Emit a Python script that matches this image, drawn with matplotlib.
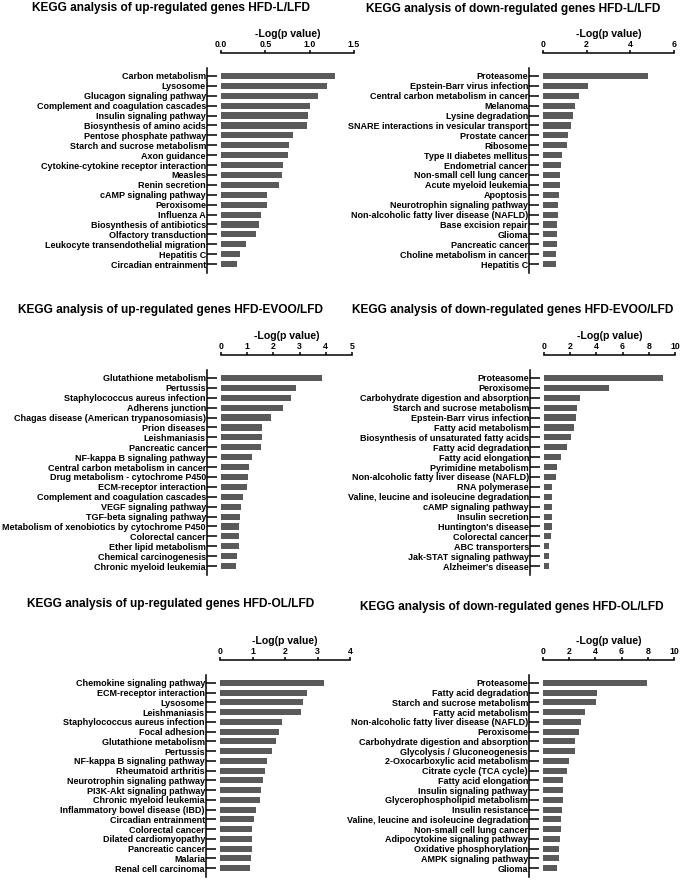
import matplotlib
matplotlib.use('Agg')
import matplotlib.pyplot as plt

plt.rcParams['font.family'] = ['Liberation Sans', 'DejaVu Sans']

W, H = 685, 884
BAR_COLOR = '#5a5a5a'

# ---- HFD-L/LFD ----
l_up_terms = ['Carbon metabolism', 'Lysosome', 'Glucagon signaling pathway',
              'Complement and coagulation cascades', 'Insulin signaling pathway',
              'Biosynthesis of amino acids', 'Pentose phosphate pathway',
              'Starch and sucrose metabolism', 'Axon guidance',
              'Cytokine-cytokine receptor interaction', 'Measles', 'Renin secretion',
              'cAMP signaling pathway', 'Peroxisome', 'Influenza A',
              'Biosynthesis of antibiotics', 'Olfactory transduction',
              'Leukocyte transendothelial migration', 'Hepatitis C',
              'Circadian entrainment']
l_up_vals = [1.29, 1.20, 1.09, 1.00, 0.98, 0.97, 0.81, 0.77, 0.76, 0.70,
             0.69, 0.65, 0.52, 0.52, 0.45, 0.43, 0.39, 0.28, 0.21, 0.18]

l_down_terms = ['Proteasome', 'Epstein-Barr virus infection',
                'Central carbon metabolism in cancer', 'Melanoma', 'Lysine degradation',
                'SNARE interactions in vesicular transport', 'Prostate cancer', 'Ribosome',
                'Type II diabetes mellitus', 'Endometrial cancer',
                'Non-small cell lung cancer', 'Acute myeloid leukemia', 'Apoptosis',
                'Neurotrophin signaling pathway',
                'Non-alcoholic fatty liver disease (NAFLD)', 'Base excision repair',
                'Glioma', 'Pancreatic cancer', 'Choline metabolism in cancer',
                'Hepatitis C']
l_down_vals = [4.79, 2.05, 1.63, 1.47, 1.36, 1.28, 1.13, 1.11, 0.87, 0.84,
               0.76, 0.76, 0.72, 0.70, 0.69, 0.66, 0.66, 0.64, 0.61, 0.58]

# ---- HFD-EVOO/LFD ----
evoo_up_terms = ['Glutathione metabolism', 'Pertussis',
                 'Staphylococcus aureus infection', 'Adherens junction',
                 'Chagas disease (American trypanosomiasis)', 'Prion diseases',
                 'Leishmaniasis', 'Pancreatic cancer', 'NF-kappa B signaling pathway',
                 'Central carbon metabolism in cancer',
                 'Drug metabolism - cytochrome P450', 'ECM-receptor interaction',
                 'Complement and coagulation cascades', 'VEGF signaling pathway',
                 'TGF-beta signaling pathway',
                 'Metabolism of xenobiotics by cytochrome P450', 'Colorectal cancer',
                 'Ether lipid metabolism', 'Chemical carcinogenesis',
                 'Chronic myeloid leukemia']
evoo_up_vals = [3.85, 2.87, 2.69, 2.36, 1.90, 1.55, 1.55, 1.52, 1.20, 1.08,
                1.04, 1.01, 0.85, 0.75, 0.71, 0.70, 0.70, 0.68, 0.62, 0.59]

evoo_down_terms = ['Proteasome', 'Peroxisome', 'Carbohydrate digestion and absorption',
                   'Starch and sucrose metabolism', 'Epstein-Barr virus infection',
                   'Fatty acid metabolism', 'Biosynthesis of unsaturated fatty acids',
                   'Fatty acid degradation', 'Fatty acid elongation',
                   'Pyrimidine metabolism', 'Non-alcoholic fatty liver disease (NAFLD)',
                   'RNA polymerase', 'Valine, leucine and isoleucine degradation',
                   'cAMP signaling pathway', 'Insulin secretion', "Huntington's disease",
                   'Colorectal cancer', 'ABC transporters', 'Jak-STAT signaling pathway',
                   "Alzheimer's disease"]
evoo_down_vals = [9.11, 4.96, 2.72, 2.52, 2.47, 2.29, 2.04, 1.76, 1.32, 0.99,
                  0.94, 0.64, 0.64, 0.59, 0.59, 0.59, 0.51, 0.38, 0.36, 0.36]

# ---- HFD-OL/LFD ----
ol_up_terms = ['Chemokine signaling pathway', 'ECM-receptor interaction', 'Lysosome',
               'Leishmaniasis', 'Staphylococcus aureus infection', 'Focal adhesion',
               'Glutathione metabolism', 'Pertussis', 'NF-kappa B signaling pathway',
               'Rheumatoid arthritis', 'Neurotrophin signaling pathway',
               'PI3K-Akt signaling pathway', 'Chronic myeloid leukemia',
               'Inflammatory bowel disease (IBD)', 'Circadian entrainment',
               'Colorectal cancer', 'Dilated cardiomyopathy', 'Pancreatic cancer',
               'Malaria', 'Renal cell carcinoma']
ol_up_vals = [3.21, 2.67, 2.56, 2.49, 1.90, 1.82, 1.71, 1.61, 1.45, 1.39,
              1.32, 1.26, 1.22, 1.11, 1.06, 0.99, 0.99, 0.97, 0.94, 0.92]

ol_down_terms = ['Proteasome', 'Fatty acid degradation', 'Starch and sucrose metabolism',
                 'Fatty acid metabolism', 'Non-alcoholic fatty liver disease (NAFLD)',
                 'Peroxisome', 'Carbohydrate digestion and absorption',
                 'Glycolysis / Gluconeogenesis', '2-Oxocarboxylic acid metabolism',
                 'Citrate cycle (TCA cycle)', 'Fatty acid elongation',
                 'Insulin signaling pathway', 'Glycerophospholipid metabolism',
                 'Insulin resistance', 'Valine, leucine and isoleucine degradation',
                 'Non-small cell lung cancer', 'Adipocytokine signaling pathway',
                 'Oxidative phosphorylation', 'AMPK signaling pathway', 'Glioma']
ol_down_vals = [7.96, 4.10, 4.02, 3.23, 2.90, 2.75, 2.47, 2.42, 1.96, 1.81,
                1.50, 1.50, 1.50, 1.48, 1.37, 1.35, 1.32, 1.25, 1.20, 1.09]

titles = ['KEGG analysis of up-regulated genes HFD-L/LFD',
          'KEGG analysis of down-regulated genes HFD-L/LFD',
          'KEGG analysis of up-regulated genes HFD-EVOO/LFD',
          'KEGG analysis of down-regulated genes HFD-EVOO/LFD',
          'KEGG analysis of up-regulated genes HFD-OL/LFD',
          'KEGG analysis of down-regulated genes HFD-OL/LFD']
x_ticks = [[0, 0.5, 1.0, 1.5], [0, 2, 4, 6], [0, 1, 2, 3, 4, 5],
           [0, 2, 4, 6, 8, 10], [0, 1, 2, 3, 4], [0, 2, 4, 6, 8, 10]]
x_ticklabels = [['0.0', '0.5', '1.0', '1.5'], ['0', '2', '4', '6'],
                ['0', '1', '2', '3', '4', '5'], ['0', '2', '4', '6', '8', '10'],
                ['0', '1', '2', '3', '4'], ['0', '2', '4', '6', '8', '10']]

panel_data = [(l_up_terms, l_up_vals), (l_down_terms, l_down_vals),
              (evoo_up_terms, evoo_up_vals), (evoo_down_terms, evoo_down_vals),
              (ol_up_terms, ol_up_vals), (ol_down_terms, ol_down_vals)]

# axes boxes in pixels: left, top, right, bottom
boxes = [(221, 68, 354, 273), (543, 68, 674, 273),
         (221, 370, 352, 575), (544, 370, 675, 575),
         (220, 675, 350, 877), (543, 675, 674, 877)]
title_pos = [(171, 8), (513, 9), (170, 310), (513, 310), (171, 604), (512, 607)]


def px2pt(p):
    return p * 72.0 / 100.0


fig = plt.figure(figsize=(W / 100, H / 100), dpi=100)

for i, (terms, vals) in enumerate(panel_data):
    l, t, r, b = boxes[i]
    ax = fig.add_axes([l / W, 1 - b / H, (r - l) / W, (b - t) / H])
    ypos = list(range(len(terms)))
    ax.barh(ypos, vals, height=0.62, color=BAR_COLOR)
    ax.set_ylim(len(terms) - 0.1, -0.8)
    ax.set_xlim(x_ticks[i][0], x_ticks[i][-1])

    ax.spines['right'].set_visible(False)
    ax.spines['bottom'].set_visible(False)
    ax.spines['top'].set_position(('outward', px2pt(15)))
    ax.spines['left'].set_position(('outward', px2pt(14)))
    for s in ('top', 'left'):
        ax.spines[s].set_linewidth(1.1)

    ax.xaxis.tick_top()
    ax.set_xticks(x_ticks[i])
    ax.set_xticklabels(x_ticklabels[i], fontsize=6.3, fontweight='bold')
    ax.tick_params(axis='x', direction='out', length=2.5, width=1.1, pad=0.3)
    ax.xaxis.set_label_position('top')
    ax.set_xlabel('-Log(p value)', fontsize=7.6, fontweight='bold', labelpad=2.5)

    ax.set_yticks(ypos)
    ax.set_yticklabels(terms, fontsize=6.5, fontweight='bold')
    ax.tick_params(axis='y', direction='in', length=7, width=1.1, pad=0.8)

    tx, ty = title_pos[i]
    fig.text(tx / W, 1 - ty / H, titles[i], ha='center', va='center',
             fontsize=8.6, fontweight='bold')

fig.savefig('out.png', dpi=100)
